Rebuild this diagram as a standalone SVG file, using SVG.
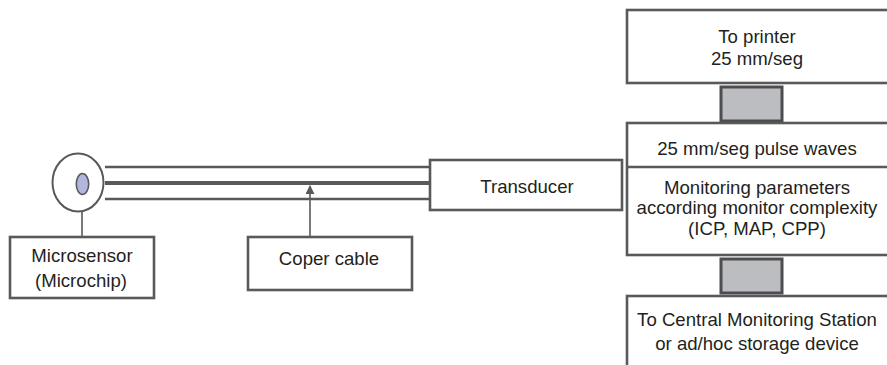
<svg xmlns="http://www.w3.org/2000/svg" width="887" height="365" viewBox="0 0 887 365">
  <style>
    .box { fill: #ffffff; stroke: #58595b; stroke-width: 2.6; }
    .plug { fill: #bcbdc0; stroke: #4d4d4f; stroke-width: 3; }
    .wire { stroke: #58595b; fill: none; }
    text { font-family: "Liberation Sans", Arial, sans-serif; font-size: 18.6px; fill: #231f20; text-anchor: middle; }
  </style>
  <defs>
    <marker id="arrowHead" viewBox="0 0 10 10" refX="9" refY="5" markerWidth="9" markerHeight="9" markerUnits="userSpaceOnUse" orient="auto">
      <path d="M0,0 L10,5 L0,10 Z" fill="#58595b"/>
    </marker>
  </defs>
  <rect width="887" height="365" fill="#ffffff"/>

  <!-- connectors: sensor lead, cable conductors, pointer -->
  <g id="connectors">
    <line class="wire" x1="105" y1="167" x2="430" y2="167" stroke-width="2.3"/>
    <line class="wire" x1="105" y1="183" x2="430" y2="183" stroke-width="4"/>
    <line class="wire" x1="105" y1="199" x2="430" y2="199" stroke-width="2.3"/>
    <line class="wire" x1="82" y1="192" x2="82" y2="237" stroke-width="1.6"/>
    <line class="wire" x1="310" y1="237" x2="310" y2="186" stroke-width="1.6" marker-end="url(#arrowHead)"/>
  </g>

  <!-- sensor tip -->
  <g id="sensor">
    <ellipse cx="78" cy="182.5" rx="25.5" ry="29" fill="#ffffff" stroke="#58595b" stroke-width="2"/>
    <ellipse cx="82.5" cy="184" rx="6.2" ry="10.5" fill="#b4b7dd" stroke="#58595b" stroke-width="1.6"/>
  </g>

  <g id="microsensor">
    <rect class="box" x="10" y="237" width="144" height="61"/>
    <text x="82" y="262">Microsensor</text>
    <text x="81" y="287">(Microchip)</text>
  </g>

  <g id="cable">
    <rect class="box" x="248" y="237" width="164" height="53"/>
    <text x="329" y="265">Coper cable</text>
  </g>

  <g id="transducer">
    <rect class="box" x="430" y="160" width="192" height="50"/>
    <text x="527" y="193">Transducer</text>
  </g>

  <g id="printer">
    <rect class="box" x="627" y="10" width="265" height="73"/>
    <text x="757" y="43">To printer</text>
    <text x="757" y="65">25 mm/seg</text>
  </g>

  <g id="plug-top">
    <rect class="plug" x="721" y="87" width="61" height="34"/>
  </g>

  <g id="monitor">
    <rect class="box" x="627" y="123" width="265" height="132"/>
    <line x1="627" y1="167" x2="892" y2="167" stroke="#58595b" stroke-width="2.6"/>
    <text x="757" y="155">25 mm/seg pulse waves</text>
    <text x="757" y="194">Monitoring parameters</text>
    <text x="757" y="214">according monitor complexity</text>
    <text x="757" y="235">(ICP, MAP, CPP)</text>
  </g>

  <g id="plug-bottom">
    <rect class="plug" x="721" y="259" width="61" height="34"/>
  </g>

  <g id="station">
    <rect class="box" x="627" y="296" width="265" height="80"/>
    <text x="757" y="326">To Central Monitoring Station</text>
    <text x="757" y="350">or ad/hoc storage device</text>
  </g>
</svg>
